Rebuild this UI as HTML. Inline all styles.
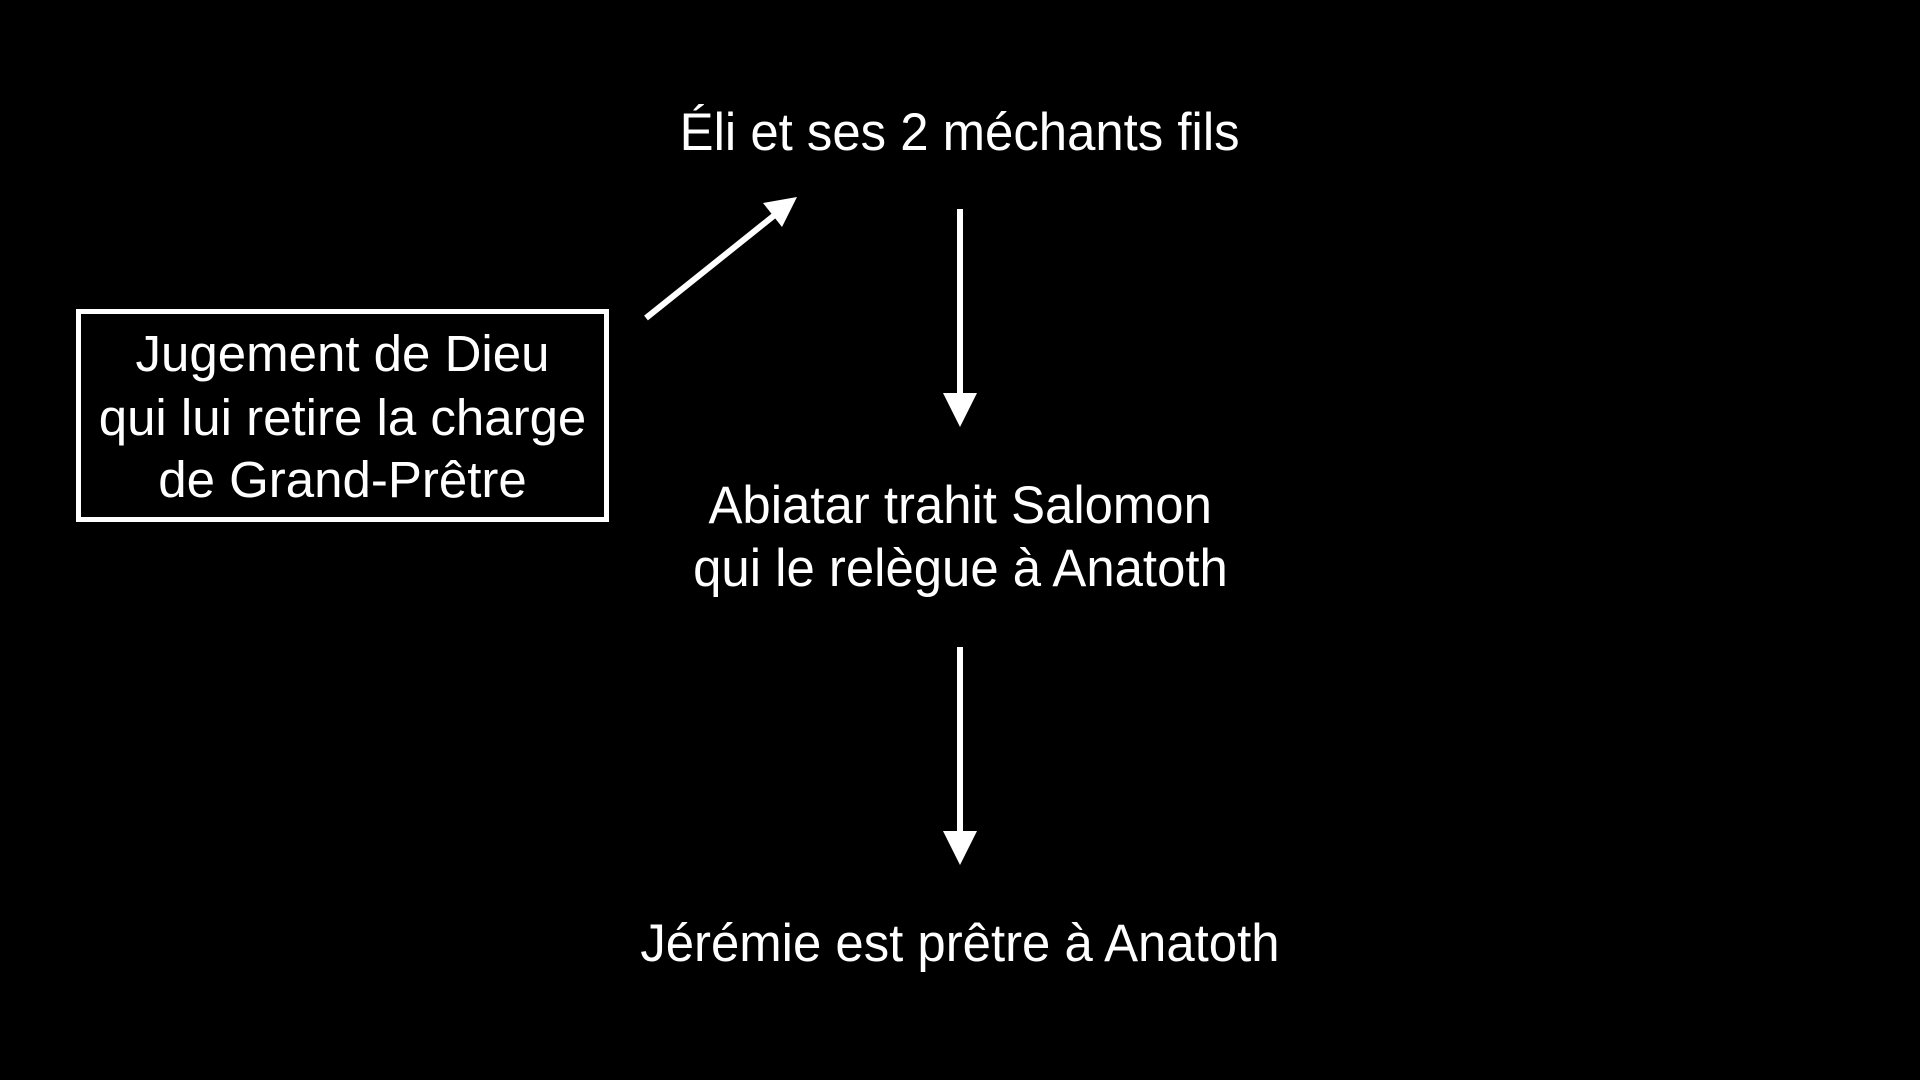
<!DOCTYPE html>
<html><head><meta charset="utf-8"><style>
html,body{margin:0;padding:0;background:#000;}
body{width:1920px;height:1080px;position:relative;overflow:hidden;font-family:"Liberation Sans",sans-serif;color:#fff;}
.t{position:absolute;left:0;width:1920px;text-align:center;font-size:53px;line-height:64px;white-space:nowrap;}
.t span{display:inline-block;transform:scaleX(0.96);}
.box{position:absolute;left:76px;top:309px;width:523px;height:203px;border:5px solid #fff;}
.bt{position:absolute;left:76px;width:533px;text-align:center;font-size:51px;line-height:64px;white-space:nowrap;}
.bt span{display:inline-block;transform:scaleX(1.0);}
</style></head><body>
<div class="t" style="top:101px"><span>Éli et ses 2 méchants fils</span></div>
<div class="box"></div>
<div class="bt" style="top:322px"><span>Jugement de Dieu</span></div>
<div class="bt" style="top:386px"><span>qui lui retire la charge</span></div>
<div class="bt" style="top:448px"><span>de Grand-Prêtre</span></div>
<div class="t" style="top:474px"><span>Abiatar trahit Salomon</span></div>
<div class="t" style="top:537px"><span>qui le relègue à Anatoth</span></div>
<div class="t" style="top:912px"><span>Jérémie est prêtre à Anatoth</span></div>
<svg width="1920" height="1080" style="position:absolute;left:0;top:0">
<g stroke="#fff" stroke-width="6" fill="#fff">
<line x1="960" y1="209" x2="960" y2="396"/>
<polygon points="943,393 977,393 960,427" stroke="none"/>
<line x1="960" y1="647" x2="960" y2="834"/>
<polygon points="943,831 977,831 960,865" stroke="none"/>
<line x1="646" y1="318" x2="776" y2="214"/>
<polygon points="797,197 763,203 782,227" stroke="none"/>
</g>
</svg>
</body></html>
